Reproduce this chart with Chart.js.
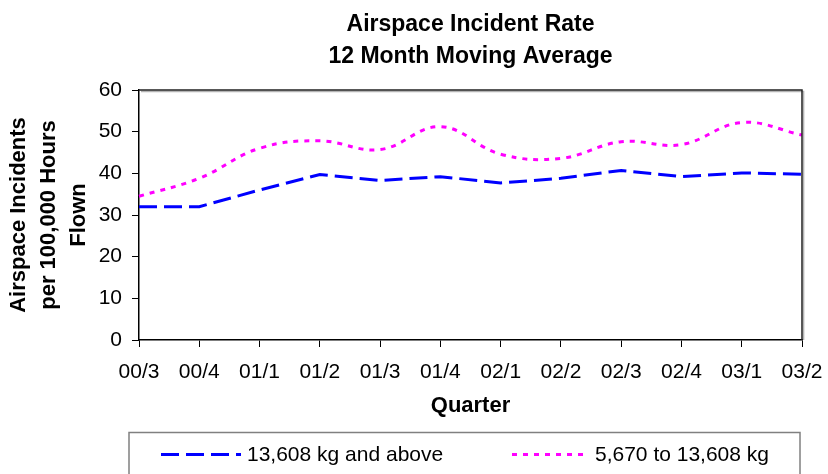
<!DOCTYPE html>
<html lang="en">
<head>
  <meta charset="UTF-8">
  <title>Airspace Incident Rate</title>

  <!-- Chart.js for graph -->
  <script src="https://cdn.jsdelivr.net/npm/chart.js"></script>
  <style>
    body { margin: 0; background: #fff; }
  </style>
</head>

<body>
  <canvas id="myChart" width="828" height="474"></canvas>

  <script>
    // Quarter labels along the x axis
    const quarters = ['00/3', '00/4', '01/1', '01/2', '01/3', '01/4', '02/1', '02/2', '02/3', '02/4', '03/1', '03/2'];

    // 12 month moving average, incidents per 100,000 hours flown
    const heavyRates = [32.0, 32.0, 36.0, 39.7, 38.3, 39.2, 37.7, 38.8, 40.7, 39.2, 40.1, 39.8];
    const mediumRates = [34.5, 38.8, 46.0, 47.8, 45.7, 51.2, 44.6, 43.6, 47.6, 46.9, 52.2, 49.2];

    const seriesNames = ['13,608 kg and above', '5,670 to 13,608 kg'];
    const yTickMax = 60;
    const yTickStep = 10;

    const FONT = 'Arial, "Liberation Sans", sans-serif';

    // black frame on top / right of the plot, with a light grey shadow
    const framePlugin = {
      id: 'frame',
      afterDraw(chart) {
        const { ctx, chartArea: a } = chart;
        ctx.save();
        ctx.strokeStyle = '#b4b4b4';
        ctx.lineWidth = 1.5;
        ctx.beginPath();
        ctx.moveTo(a.left + 2, a.top + 1.6);
        ctx.lineTo(a.right + 1.6, a.top + 1.6);
        ctx.lineTo(a.right + 1.6, a.bottom);
        ctx.stroke();
        ctx.strokeStyle = '#222';
        ctx.beginPath();
        ctx.moveTo(a.left, a.top);
        ctx.lineTo(a.right, a.top);
        ctx.lineTo(a.right, a.bottom);
        ctx.stroke();
        ctx.restore();
      }
    };

    // boxed legend under the chart, drawn from the datasets
    const legendBoxPlugin = {
      id: 'legendBox',
      afterDraw(chart) {
        const ctx = chart.ctx;
        const slots = [{ x: 161, w: 80 }, { x: 512, w: 77 }];
        const y = 454.5;
        ctx.save();
        ctx.strokeStyle = '#808080';
        ctx.lineWidth = 1.5;
        ctx.strokeRect(129, 432.5, 671, 60);
        chart.data.datasets.forEach((ds, i) => {
          const s = slots[i];
          ctx.strokeStyle = ds.borderColor;
          ctx.lineWidth = 3;
          ctx.setLineDash(ds.borderDash);
          ctx.beginPath();
          ctx.moveTo(s.x, y);
          ctx.lineTo(s.x + s.w, y);
          ctx.stroke();
          ctx.setLineDash([]);
          ctx.fillStyle = '#000';
          ctx.font = '21px ' + FONT;
          ctx.textBaseline = 'middle';
          ctx.fillText(ds.label, s.x + s.w + 6, y + 1);
        });
        ctx.restore();
      }
    };

    const ctx = document.getElementById('myChart').getContext('2d');

    window.myChart = new Chart(ctx, {
      type: 'line',
      data: {
        labels: quarters,
        datasets: [{
          label: seriesNames[0],
          data: heavyRates,
          borderColor: '#0000ff',
          borderWidth: 3,
          borderDash: [18, 7],
          pointRadius: 0,
          tension: 0,
          fill: false
        }, {
          label: seriesNames[1],
          data: mediumRates,
          borderColor: '#ff00ff',
          borderWidth: 3,
          borderDash: [5, 6],
          pointRadius: 0,
          tension: 0.4,
          fill: false
        }]
      },
      options: {
        responsive: false,
        animation: false,
        layout: { padding: { left: 0, right: 26, top: 0, bottom: 0 } },
        plugins: {
          legend: { display: false },
          tooltip: { enabled: false },
          title: {
            display: true,
            fullSize: false, // centre over the plot area
            text: ['Airspace Incident Rate', '12 Month Moving Average'],
            color: '#000',
            font: { family: FONT, size: 23, weight: 'bold', lineHeight: 32 / 23 },
            padding: { top: 9, bottom: 17 }
          }
        },
        scales: {
          x: {
            offset: false,
            grid: {
              drawOnChartArea: false,
              drawTicks: true,
              tickLength: 7,
              tickColor: '#000',
              tickWidth: 1
            },
            border: { display: true, color: '#000', width: 1.5 },
            ticks: {
              color: '#000',
              font: { family: FONT, size: 21 },
              padding: 13,
              maxRotation: 0,
              autoSkip: false
            },
            title: {
              display: true,
              text: 'Quarter',
              color: '#000',
              font: { family: FONT, size: 22, weight: 'bold', lineHeight: 1.2 },
              padding: { top: 0, bottom: 55 }
            },
            afterFit(scale) {
              scale.height = 134;
              scale.paddingLeft = 0;
              scale.paddingRight = 0;
            }
          },
          y: {
            min: 0,
            max: yTickMax,
            grid: {
              drawOnChartArea: false,
              drawTicks: true,
              tickLength: 7,
              tickColor: '#000',
              tickWidth: 1
            },
            border: { display: true, color: '#000', width: 1.5 },
            ticks: {
              stepSize: yTickStep,
              color: '#000',
              font: { family: FONT, size: 21 },
              padding: 10
            },
            title: {
              display: true,
              text: ['Airspace Incidents', 'per 100,000 Hours', 'Flown'],
              color: '#000',
              font: { family: FONT, size: 22, weight: 'bold', lineHeight: 30 / 22 },
              padding: { top: 4, bottom: 0 }
            },
            afterFit(scale) {
              scale.width = 139;
            }
          }
        }
      },
      plugins: [framePlugin, legendBoxPlugin]
    });
  </script>

</body>
</html>
